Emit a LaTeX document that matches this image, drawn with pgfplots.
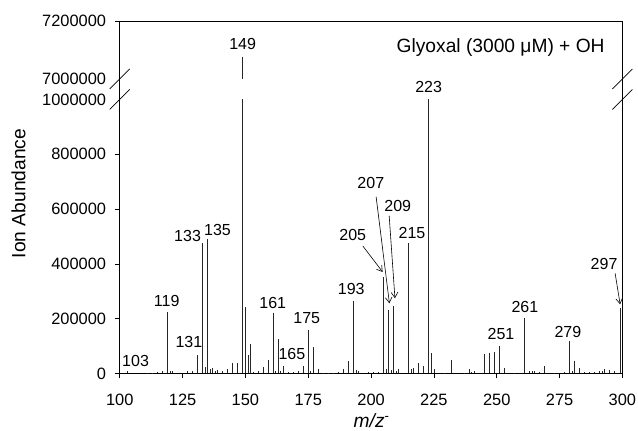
\documentclass[border=0pt]{standalone}
\usepackage{fontspec}
\setmainfont{Liberation Sans}
\usepackage{pgfplots}
\pgfplotsset{compat=1.18}
\usepackage{pgfplotstable}
\usetikzlibrary{arrows.meta}

\pgfplotstableread{
mz ab
103 8000
111 3000
113 3000
115 4000
117 9000
119 226000
120 10000
121 10000
127 9000
129 9000
131 69000
133 475000
134 22000
135 489000
136 15000
137 19000
138 8000
139 11000
141 8000
143 16000
145 37000
147 39000
149 7077000
150 242000
151 66000
152 108000
153 5000
155 8000
157 23000
159 51000
161 220000
162 8000
163 127000
164 8000
165 29000
167 5000
169 5000
171 8000
173 29000
175 160000
176 8000
177 95000
179 16000
181 3000
183 3000
185 3000
187 4000
189 17000
191 47000
193 263000
194 11000
195 8000
199 7000
201 7000
203 7000
205 352000
206 18000
207 230000
208 12000
209 245000
210 8000
211 16000
215 477000
216 16000
217 21000
219 40000
221 29000
223 1000000
224 73000
225 17000
229 3000
232 51000
237 3000
239 18000
240 6000
241 8000
245 70000
247 75000
249 80000
251 102000
253 21000
257 3000
261 202000
263 10000
264 10000
265 10000
267 5000
269 26000
273 3000
277 6000
279 117000
280 8000
281 44000
283 19000
285 5000
287 4000
289 5000
291 9000
292 10000
293 18000
295 11000
297 10000
299.2 240000
}\spectrum

\begin{document}
\begin{tikzpicture}[font=\fontsize{12}{14}\selectfont]
\path[use as bounding box] (-89.8pt,-42.4pt) rectangle (388.7pt,280.1pt);
\pgfplotsset{
 common/.style={
  scale only axis, width=377pt, xmin=100, xmax=300,
  axis y line*=box, ytick pos=left, tick align=outside,
  axis line style={-, line width=0.6pt},
  major tick length=3.75pt, tick style={black, line width=0.5pt},
  clip mode=individual, scaled y ticks=false, scaled x ticks=false,
  yticklabel style={font=\fontsize{12.3}{14}\selectfont, xshift=-3pt},
  xticklabel style={font=\fontsize{12.3}{14}\selectfont, yshift=-8.5pt},
 },
 bars/.style={ycomb, black!85, line width=0.6pt, mark=none},
}
\begin{axis}[common, at={(0,0)}, anchor=south west, height=205.5pt,
  ymin=0, ymax=1000000, axis x line*=bottom, xtick pos=bottom,
  xtick={100,125,...,300}, xticklabels={100,125,150,175,200,225,250,275,300},
  ytick={0,200000,400000,600000,800000},
  yticklabels={0,200000,400000,600000,800000},
  extra y ticks={1000000}, extra y tick labels={1000000},
  extra y tick style={major tick style={draw=none}}]
\addplot[bars] table[x=mz,y=ab] {\spectrum};
\node at (106.3,45600) {103};
\node at (118.7,264600) {119};
\node at (127.5,116000) {131};
\node at (127.0,503000) {133};
\node at (138.9,523800) {135};
\node at (160.9,258400) {161};
\node at (168.5,70000) {165};
\node at (174.4,201500) {175};
\node at (192.1,308400) {193};
\node at (192.7,505500) {205};
\node at (199.9,695300) {207};
\node at (210.6,611400) {209};
\node at (216.3,511700) {215};
\node at (222.9,1046800) {223};
\node at (251.7,144200) {251};
\node at (261.2,243800) {261};
\node at (278.3,152600) {279};
\node at (292.7,397900) {297};
\draw[-{Straight Barb[length=4pt,width=5pt]}, line width=0.45pt] (196.7,465400) -- (204.6,370500);
\draw[-{Straight Barb[length=4pt,width=5pt]}, line width=0.45pt] (202.0,645300) -- (207.3,256200);
\draw[-{Straight Barb[length=4pt,width=5pt]}, line width=0.45pt] (207.2,576000) -- (209.5,274500);
\draw[-{Straight Barb[length=4pt,width=5pt]}, line width=0.45pt] (297.1,365700) -- (299.1,252600);
\end{axis}
\begin{axis}[common, at={(0,220.9pt)}, anchor=south west, height=43.5pt,
  ymin=7000000, ymax=7200000, axis x line*=top, xtick=\empty,
  ytick={7200000}, yticklabels={7200000},
  extra y ticks={7000000}, extra y tick labels={7000000},
  extra y tick style={major tick style={draw=none}}]
\addplot[bars] table[x=mz,y=ab] {\spectrum};
\node at (148.9,7121800) {149};
\node[anchor=east, font=\fontsize{14.4}{17}\selectfont] at (294.8,7108000) {Glyoxal (3000 μM) + OH};
\end{axis}
\draw[line width=0.6pt] (0,205.5pt) -- (0,220.9pt) (377pt,205.5pt) -- (377pt,220.9pt);
\draw[line width=0.5pt] (-7.5pt,198pt) -- (7.5pt,213pt) (-7.5pt,213.4pt) -- (7.5pt,228.4pt);
\draw[line width=0.5pt] (369.5pt,198pt) -- (384.5pt,213pt) (369.5pt,213.4pt) -- (384.5pt,228.4pt);
\node[rotate=90, font=\fontsize{14.4}{17}\selectfont] at (-75.9pt,135pt) {Ion Abundance};
\node[anchor=base, font=\fontsize{14.4}{17}\selectfont] at (189pt,-40.2pt) {\textit{m/z}\textsuperscript{-}};
\end{tikzpicture}
\end{document}
